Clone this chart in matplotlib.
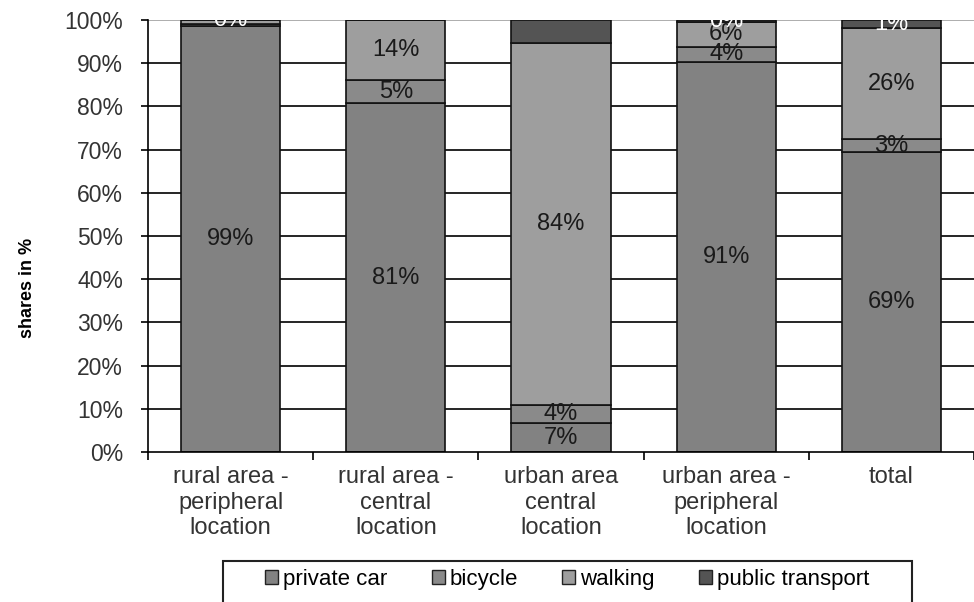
import numpy as np
import matplotlib
matplotlib.use("Agg")
import matplotlib.pyplot as plt
from matplotlib.patches import Rectangle

plt.rcParams['font.family'] = ['Liberation Sans', 'DejaVu Sans']

# data (shares in %)
categories = ["rural area -\nperipheral\nlocation", "rural area -\ncentral\nlocation",
              "urban area\ncentral\nlocation", "urban area -\nperipheral\nlocation", "total"]
modes = ["private car", "bicycle", "walking", "public transport"]
private_car = [98.6, 80.7, 6.6, 90.3, 69.4]
bicycle = [0.4, 5.3, 4.3, 3.5, 3.0]
walking = [1.0, 14.0, 83.8, 5.8, 25.7]
public_transport = [0.0, 0.0, 5.3, 0.4, 1.9]

# data labels as printed on the chart (None = not shown)
car_labels = ["99%", "81%", "7%", "91%", "69%"]
bicycle_labels = [None, "5%", "4%", "4%", "3%"]
walking_labels = [None, "14%", "84%", "6%", "26%"]
public_labels = ["0%", None, None, "0%", "1%"]

colors = ["#828282", "#8a8a8a", "#9e9e9e", "#545454"]
label_colors = ["#1a1a1a", "#1a1a1a", "#1a1a1a", "white"]

fig = plt.figure(figsize=(9.74, 6.02), dpi=100)
ax = fig.add_axes([148 / 974, 150 / 602, 826 / 974, 432 / 602])

x = np.arange(len(categories))
series = [private_car, bicycle, walking, public_transport]
labels = [car_labels, bicycle_labels, walking_labels, public_labels]

# gridlines behind bars
for yv in range(10, 100, 10):
    ax.axhline(yv, color='black', lw=1.2, zorder=0)
ax.axhline(100, color='#a0a0a0', lw=1.2, zorder=0)

bottom = np.zeros(len(categories))
for vals, lab, col, lcol, name in zip(series, labels, colors, label_colors, modes):
    vals = np.array(vals)
    ax.bar(x, vals, 0.6, bottom=bottom, color=col, edgecolor='#111111',
           linewidth=1.2, label=name, zorder=2)
    for i, t in enumerate(lab):
        if t is None:
            continue
        yc = bottom[i] + vals[i] / 2
        ax.text(x[i], yc, t, ha='center', va='center', fontsize=17,
                color=lcol, zorder=3)
    bottom += vals

ax.set_xlim(-0.5, -0.5 + 826 / 166.75)
ax.set_ylim(0, 100)

ax.spines['top'].set_visible(False)
ax.spines['right'].set_visible(False)
ax.spines['left'].set_linewidth(1.2)
ax.spines['bottom'].set_linewidth(1.2)

ax.set_yticks(np.arange(0, 101, 10))
ax.set_yticklabels([f"{v}%" for v in range(0, 101, 10)], fontsize=16.5, color='#333333')
ax.tick_params(axis='y', length=5, width=1.2, pad=13, direction='out')

ax.set_xticks(x)
ax.set_xticklabels(categories, fontsize=17, color='#333333', linespacing=1.22)
ax.set_xticks(np.arange(-0.5, 5, 1), minor=True)
ax.tick_params(axis='x', which='major', length=0, pad=10)
ax.tick_params(axis='x', which='minor', length=6, width=1.2, direction='out')

ax.set_ylabel("shares in %", fontsize=13, fontweight='bold')
ax.yaxis.set_label_coords(-(148 - 36) / 826, 0.38)

# legend box (cut off by the bottom edge as in the reference)
fig.patches.append(Rectangle((223 / 974, -0.05), 689 / 974, 0.05 + 1 - 561 / 602,
                             transform=fig.transFigure, fill=False,
                             edgecolor='#222222', linewidth=1.5))
leg = fig.legend(loc='upper center', bbox_to_anchor=(567 / 974, 1 - 562 / 602),
                 ncol=4, fontsize=16, frameon=False,
                 handlelength=0.6, handleheight=0.6,
                 handletextpad=0.2, columnspacing=2.0, borderpad=0.3,
                 borderaxespad=0)
for h in leg.legend_handles:
    h.set_linewidth(1.0)
    h.set_edgecolor('#222222')

fig.savefig("out.png", dpi=100)
